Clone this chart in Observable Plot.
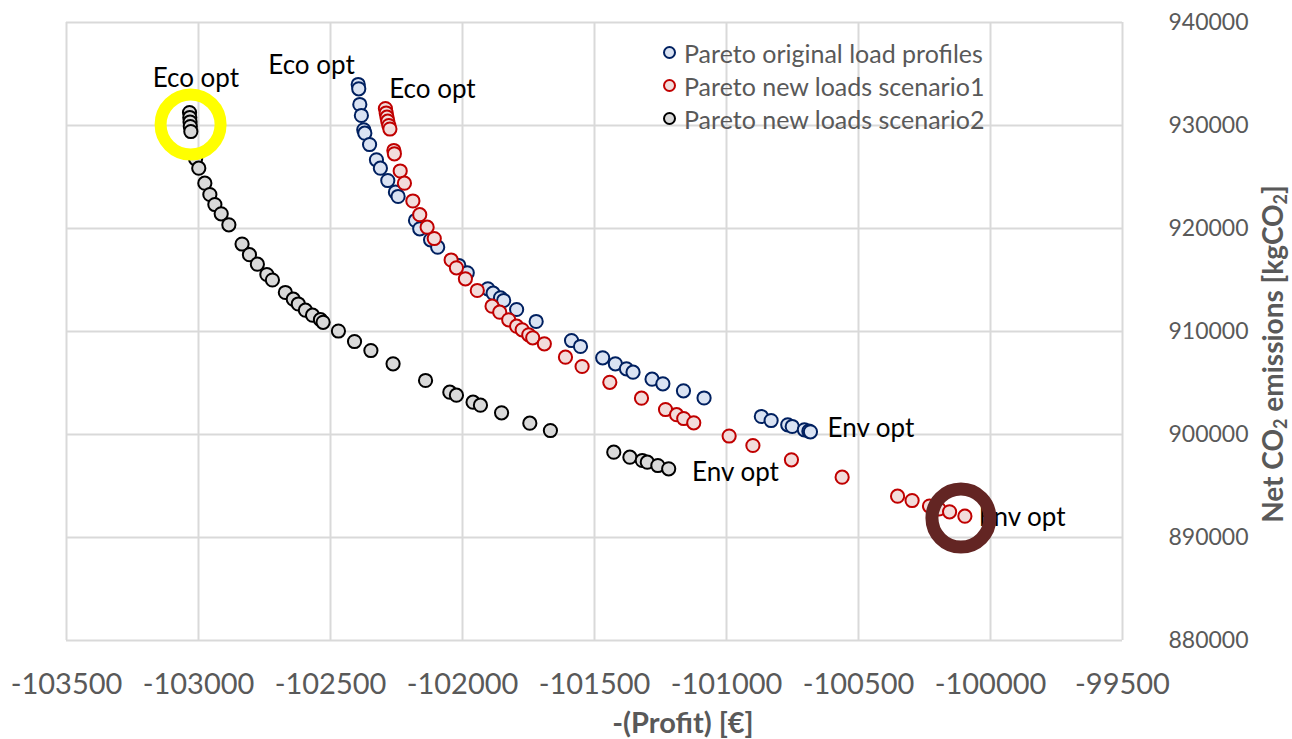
<!DOCTYPE html>
<html>
<head>
<meta charset="utf-8">
<script src="https://cdn.jsdelivr.net/npm/d3@7"></script>
<script src="https://cdn.jsdelivr.net/npm/@observablehq/plot@0.6"></script>
<style>
  html, body { margin: 0; padding: 0; background: #fff; }
  #wrap { position: relative; width: 1292px; height: 739px; font-family: Lato, "Open Sans", sans-serif; }
  #legend { position: absolute; left: 663px; top: 36px; color: #595959; font-size: 25px; }
  #legend .row { display: flex; align-items: center; height: 33px; white-space: nowrap; }
  #legend .sw { width: 13px; height: 13px; border-radius: 50%; border: 2px solid; box-sizing: border-box; margin-right: 8px; }
</style>
</head>
<body>
<div id="wrap"></div>
<script>
// ---- tick values ----
const xTicks = [-103500, -103000, -102500, -102000, -101500, -101000, -100500, -100000, -99500];
const yTicks = [880000, 890000, 900000, 910000, 920000, 930000, 940000];

// ---- series: Pareto original load profiles ----
const origProfit = [-102395, -102393, -102389, -102383, -102374, -102370, -102352, -102326, -102311, -102283,
  -102254, -102244, -102178, -102162, -102121, -102094, -102014, -101982, -101904, -101884,
  -101856, -101844, -101795, -101721, -101587, -101553, -101469, -101421, -101379, -101354,
  -101282, -101241, -101163, -101085, -100868, -100831, -100768, -100751, -100705, -100688, -100682];
const origCO2 = [933981, 933563, 932039, 930971, 929583, 929252, 928155, 926670, 925855, 924660,
  923524, 923107, 920777, 919971, 918903, 918184, 916408, 915699, 914146, 913718,
  913272, 913010, 912136, 910971, 909126, 908544, 907447, 906864, 906379, 906049,
  905369, 904922, 904243, 903544, 901748, 901359, 900942, 900777, 900456, 900320, 900262];

// ---- series: Pareto new loads scenario1 ----
const scen1Profit = [-102292, -102289, -102286, -102283, -102279, -102275, -102260, -102258, -102236, -102220,
  -102188, -102162, -102134, -102107, -102043, -102023, -101989, -101944, -101888, -101859,
  -101825, -101795, -101774, -101749, -101734, -101690, -101610, -101547, -101442, -101322,
  -101231, -101189, -101162, -101124, -100990, -100900, -100754, -100562, -100352, -100297,
  -100231, -100195, -100155, -100097];
const scen1CO2 = [931650, 931214, 930806, 930417, 930000, 929660, 927573, 927252, 925583, 924398,
  922670, 921340, 920126, 919029, 916942, 916184, 915117, 913981, 912456, 911874,
  911136, 910515, 910165, 909680, 909388, 908806, 907505, 906602, 905068, 903524,
  902427, 901922, 901553, 901136, 899854, 898932, 897544, 895854, 894010, 893592,
  893058, 892767, 892495, 892068];

// ---- series: Pareto new loads scenario2 ----
const scen2Profit = [-103034, -103033, -103032, -103031, -103029, -103011, -102999, -102976, -102957, -102938,
  -102914, -102885, -102835, -102807, -102777, -102741, -102720, -102671, -102641, -102622,
  -102595, -102568, -102538, -102528, -102470, -102409, -102347, -102263, -102140, -102048,
  -102023, -101960, -101932, -101852, -101745, -101667, -101427, -101366, -101319, -101300,
  -101260, -101219];
const scen2CO2 = [931262, 930777, 930340, 929903, 929417, 926767, 925855, 924398, 923301, 922330,
  921427, 920359, 918495, 917456, 916534, 915534, 915000, 913787, 913136, 912670,
  912068, 911583, 911146, 910893, 910048, 909029, 908155, 906864, 905243, 904107,
  903816, 903136, 902845, 902107, 901097, 900388, 898281, 897796, 897476, 897311,
  896990, 896670];

// ---- annotations ----
const annoText   = ["Eco opt", "Eco opt", "Eco opt", "Env opt", "Env opt", "Env opt"];
const annoProfit = [-103010, -102572, -102114, -100453, -100966, -99880];
const annoCO2    = [934524, 935825, 933495, 900544, 896272, 891971];

// ---- highlighted optima (rings) ----
const ecoRing = [{x: -103030, y: 930100}];
const envRing = [{x: -100112, y: 891890}];

// ---- legend ----
const seriesNames  = ["Pareto original load profiles", "Pareto new loads scenario1", "Pareto new loads scenario2"];
const seriesFill   = ["#dae3f3", "#f2dcdb", "#d9d9d9"];
const seriesStroke = ["#002060", "#c00000", "#000000"];

const rows = (xs, ys) => xs.map((x, i) => ({x, y: ys[i]}));
const orig = rows(origProfit, origCO2);
const scen1 = rows(scen1Profit, scen1CO2);
const scen2 = rows(scen2Profit, scen2CO2);
const annos = annoText.map((t, i) => ({t, x: annoProfit[i], y: annoCO2[i]}));

const dotOpts = (i) => ({x: "x", y: "y", r: 6.6, fill: seriesFill[i], stroke: seriesStroke[i], strokeWidth: 2});

const chart = Plot.plot({
  width: 1292,
  height: 739,
  marginLeft: 66,
  marginRight: 170,
  marginTop: 22,
  marginBottom: 99,
  x: {domain: [-103500, -99500]},
  y: {domain: [880000, 940000]},
  style: {fontFamily: "Lato, 'Open Sans', sans-serif", background: "#fff", overflow: "visible"},
  marks: [
    Plot.gridX(xTicks, {stroke: "#d9d9d9", strokeOpacity: 1, strokeWidth: 2}),
    Plot.gridY(yTicks, {stroke: "#d9d9d9", strokeOpacity: 1, strokeWidth: 2}),
    Plot.axisX(xTicks, {tickSize: 0, tickPadding: 33, fontSize: 29, fill: "#595959", tickFormat: d => String(d), label: null}),
    Plot.axisY(yTicks, {anchor: "right", tickSize: 0, tickPadding: 46, fontSize: 23, fill: "#595959", tickFormat: d => String(d), label: null}),
    Plot.dot(orig, dotOpts(0)),
    Plot.dot(scen1, dotOpts(1)),
    Plot.dot(scen2, dotOpts(2)),
    Plot.text(annos, {x: "x", y: "y", text: "t", fontSize: 26, fill: "#000"}),
    Plot.dot(ecoRing, {x: "x", y: "y", r: 30, stroke: "#ffff00", strokeWidth: 12, fill: "none"}),
    Plot.dot(envRing, {x: "x", y: "y", r: 29, stroke: "#632523", strokeWidth: 13, fill: "none"})
  ]
});

const wrap = document.getElementById("wrap");
wrap.appendChild(chart);

// axis titles
const svg = d3.select(chart);
svg.append("text")
  .attr("x", 683).attr("y", 733)
  .attr("text-anchor", "middle")
  .attr("font-size", 29).attr("font-weight", "bold").attr("fill", "#595959")
  .text("-(Profit) [€]");

const yt = svg.append("text")
  .attr("transform", "translate(1283,354) rotate(-90)")
  .attr("text-anchor", "middle")
  .attr("font-size", 28).attr("font-weight", "bold").attr("fill", "#595959");
yt.append("tspan").text("Net CO");
yt.append("tspan").attr("font-size", 18).attr("dy", 4).text("2");
yt.append("tspan").attr("dy", -4).text(" emissions [kgCO");
yt.append("tspan").attr("font-size", 18).attr("dy", 4).text("2");
yt.append("tspan").attr("dy", -4).text("]");

// legend overlay
const legend = d3.select(wrap).append("div").attr("id", "legend");
seriesNames.forEach((n, i) => {
  const row = legend.append("div").attr("class", "row");
  row.append("div").attr("class", "sw").style("background", seriesFill[i]).style("border-color", seriesStroke[i]);
  row.append("span").text(n);
});
</script>
</body>
</html>
